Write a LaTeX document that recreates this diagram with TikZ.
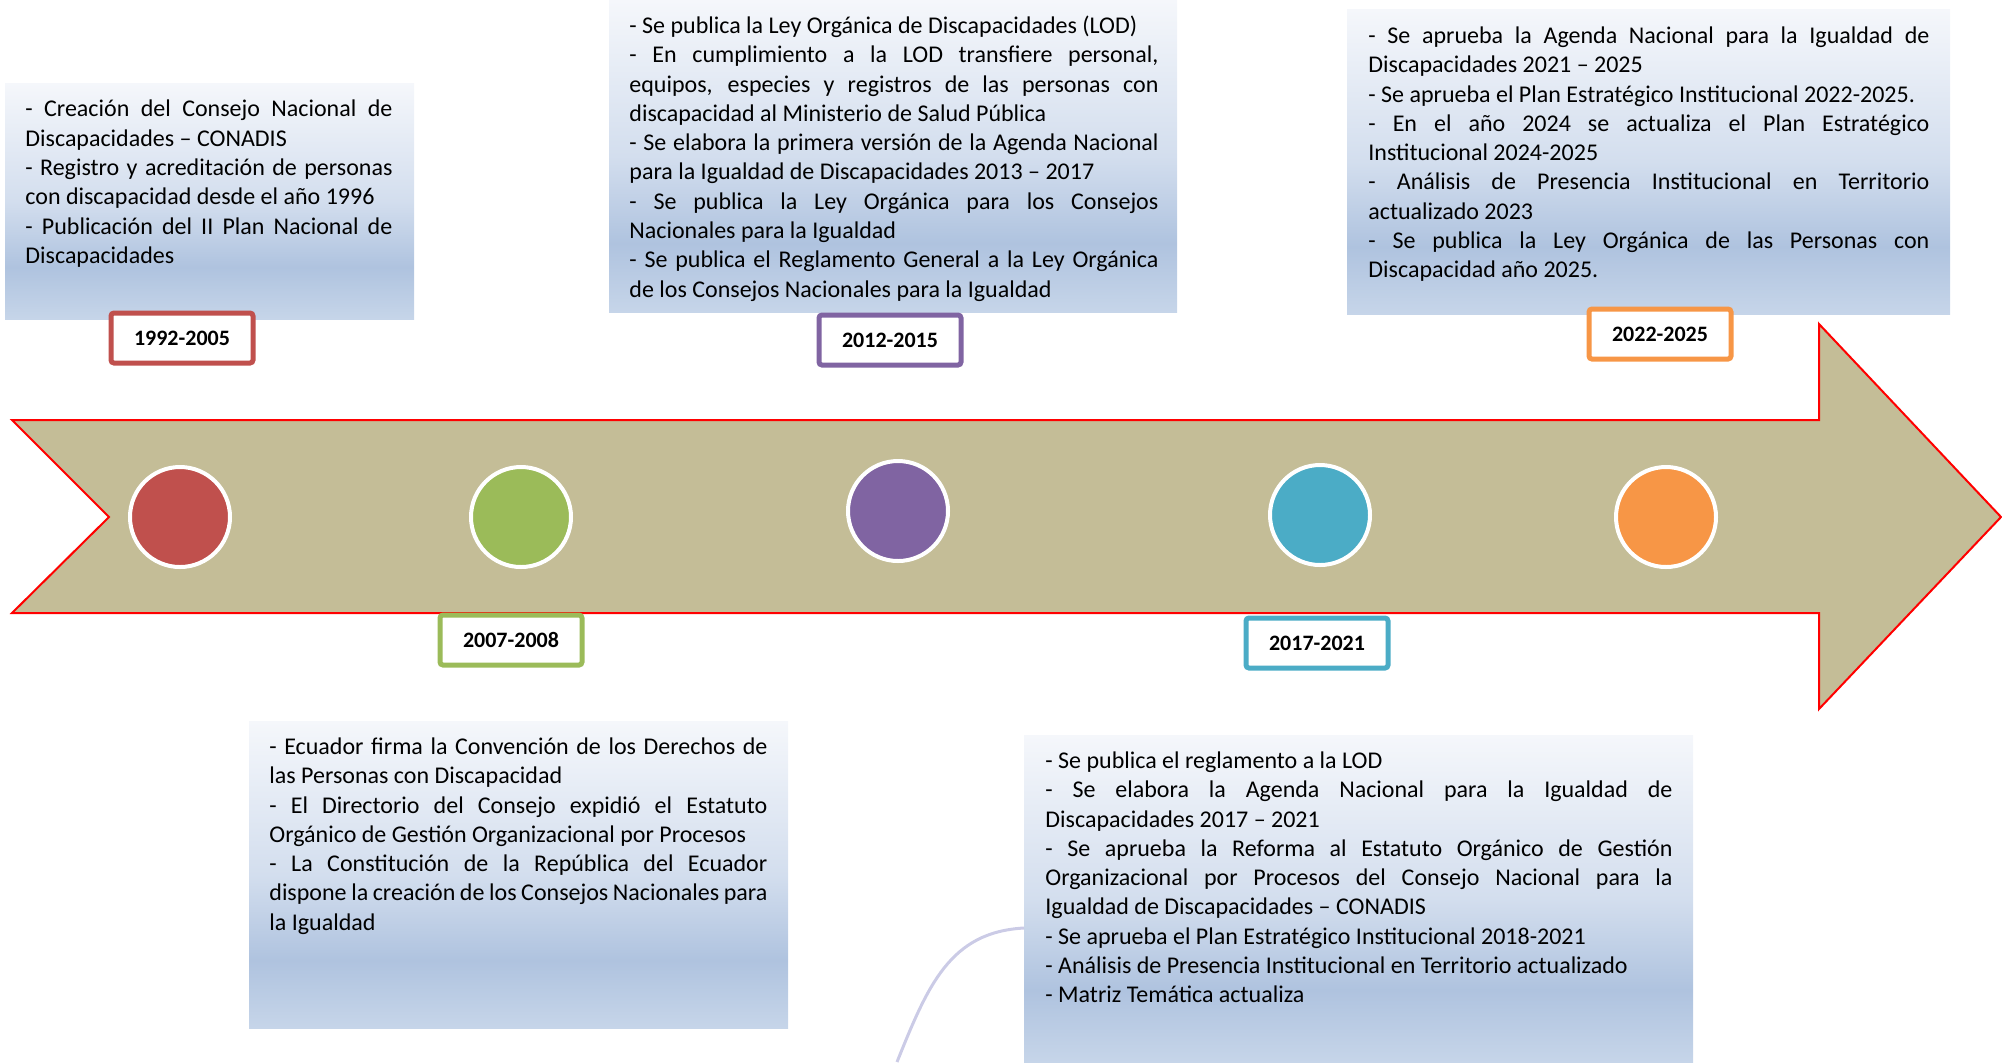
\documentclass[tikz,border=0pt]{standalone}
\usepackage{fontspec}
\setmainfont{Carlito}
\usepackage{tikz}
\usepackage{xcolor}
\definecolor{arrowtan}{HTML}{C4BD97}
\definecolor{cred}{HTML}{C0504D}
\definecolor{cgreen}{HTML}{9BBB59}
\definecolor{cpurple}{HTML}{8064A2}
\definecolor{cteal}{HTML}{4BACC6}
\definecolor{corange}{HTML}{F79646}
\definecolor{boxtop}{HTML}{F5F7FB}
\definecolor{boxlight}{HTML}{D3DEEE}
\definecolor{boxmid}{HTML}{AFC3DF}
\definecolor{boxbot}{HTML}{C6D5E9}
\definecolor{curveline}{HTML}{CBCBE6}
\pgfdeclareverticalshading{boxshade}{100bp}{color(0bp)=(boxbot); color(25bp)=(boxbot); color(36bp)=(boxmid); color(50bp)=(boxlight); color(75bp)=(boxtop); color(100bp)=(boxtop)}
\tikzset{
  dot/.style={circle,fill=#1,draw=white,line width=2pt,minimum size=50pt,inner sep=0pt},
  yearbox/.style={draw=#1,fill=white,line width=2.5pt,rounded corners=1.5pt,minimum width=71pt,minimum height=25pt,inner sep=0pt,font=\fontsize{11}{13}\selectfont\bfseries},
  notes/.style={anchor=north west,inner sep=0pt,text width=#1,align=justify,font=\fontsize{12}{14.65}\selectfont,
    execute at begin node={\parindent=0pt\hyphenpenalty=10000\tolerance=9999\emergencystretch=20pt}},
  panel/.style={shading=boxshade}
}

\begin{document}
\begin{tikzpicture}[x=0.5pt,y=-0.5pt]
        \useasboundingbox (0,0) rectangle (2002,1062);
        \shade[panel] (5,83) rectangle (414,319);
        \shade[panel] (609,0) rectangle (1177,312);
        \shade[panel] (1347,9) rectangle (1950,314);
        \shade[panel] (249,721) rectangle (788,1028);
        \shade[panel] (1024,735) rectangle (1693,1062);
        \draw[curveline,line width=1.5pt] (1024,928) .. controls (950,932) and (928,985) .. (897,1062);
        \draw[fill=arrowtan,draw=red,line width=1pt] (12,420) -- (1819,420) -- (1819,324) -- (2001,517) -- (1819,709) -- (1819,613) -- (12,613) -- (109,517) -- cycle;
        \node[dot=cred] (c1) at (180,517) {};
        \node[dot=cgreen] (c2) at (521,517) {};
        \node[dot=cpurple] (c3) at (898,511) {};
        \node[dot=cteal] (c4) at (1320,515) {};
        \node[dot=corange] (c5) at (1666,517) {};
        \node[yearbox=cred] (y1) at (182,338) {1992-2005};
        \node[yearbox=cgreen] (y2) at (511,640) {2007-2008};
        \node[yearbox=cpurple] (y3) at (890,340) {2012-2015};
        \node[yearbox=cteal] (y4) at (1317,643) {2017-2021};
        \node[yearbox=corange] (y5) at (1660,334) {2022-2025};
        \node[notes=183.5pt] (t1) at (25,96) {\strut- Creación del Consejo Nacional de\linebreak Discapacidades – CONADIS\par
          - Registro y acreditación de personas\linebreak con discapacidad desde el año 1996\par
          - Publicación del II Plan Nacional de\linebreak Discapacidades};
        \node[notes=264.5pt] (t2) at (629,12.5) {\strut- Se publica la Ley Orgánica de Discapacidades (LOD)\par
          - En cumplimiento a la LOD transfiere personal,\linebreak equipos, especies y registros de las personas con\linebreak discapacidad al Ministerio de Salud Pública\par
          - Se elabora la primera versión de la Agenda Nacional\linebreak para la Igualdad de Discapacidades 2013 – 2017\par
          - Se publica la Ley Orgánica para los Consejos\linebreak Nacionales para la Igualdad\par
          - Se publica el Reglamento General a la Ley Orgánica\linebreak de los Consejos Nacionales para la Igualdad};
        \node[notes=280.5pt] (t3) at (1368,22.5) {\strut- Se aprueba la Agenda Nacional para la Igualdad de\linebreak Discapacidades 2021 – 2025\par
          - Se aprueba el Plan Estratégico Institucional 2022-2025.\par
          - En el año 2024 se actualiza el Plan Estratégico\linebreak Institucional 2024-2025\par
          - Análisis de Presencia Institucional en Territorio\linebreak actualizado 2023\par
          - Se publica la Ley Orgánica de las Personas con\linebreak Discapacidad año 2025.};
        \node[notes=249pt] (t4) at (269,733.5) {\strut- Ecuador firma la Convención de los Derechos de\linebreak las Personas con Discapacidad\par
          - El Directorio del Consejo expidió el Estatuto\linebreak Orgánico de Gestión Organizacional por Procesos\par
          - La Constitución de la República del Ecuador\linebreak dispone la creación de los Consejos Nacionales para\linebreak la Igualdad};
        \node[notes=313.5pt] (t5) at (1045,747.5) {\strut- Se publica el reglamento a la LOD\par
          - Se elabora la Agenda Nacional para la Igualdad de\linebreak Discapacidades 2017 – 2021\par
          - Se aprueba la Reforma al Estatuto Orgánico de Gestión\linebreak Organizacional por Procesos del Consejo Nacional para la\linebreak Igualdad de Discapacidades – CONADIS\par
          - Se aprueba el Plan Estratégico Institucional 2018-2021\par
          - Análisis de Presencia Institucional en Territorio actualizado\par
          - Matriz Temática actualiza};
\end{tikzpicture}
\end{document}
